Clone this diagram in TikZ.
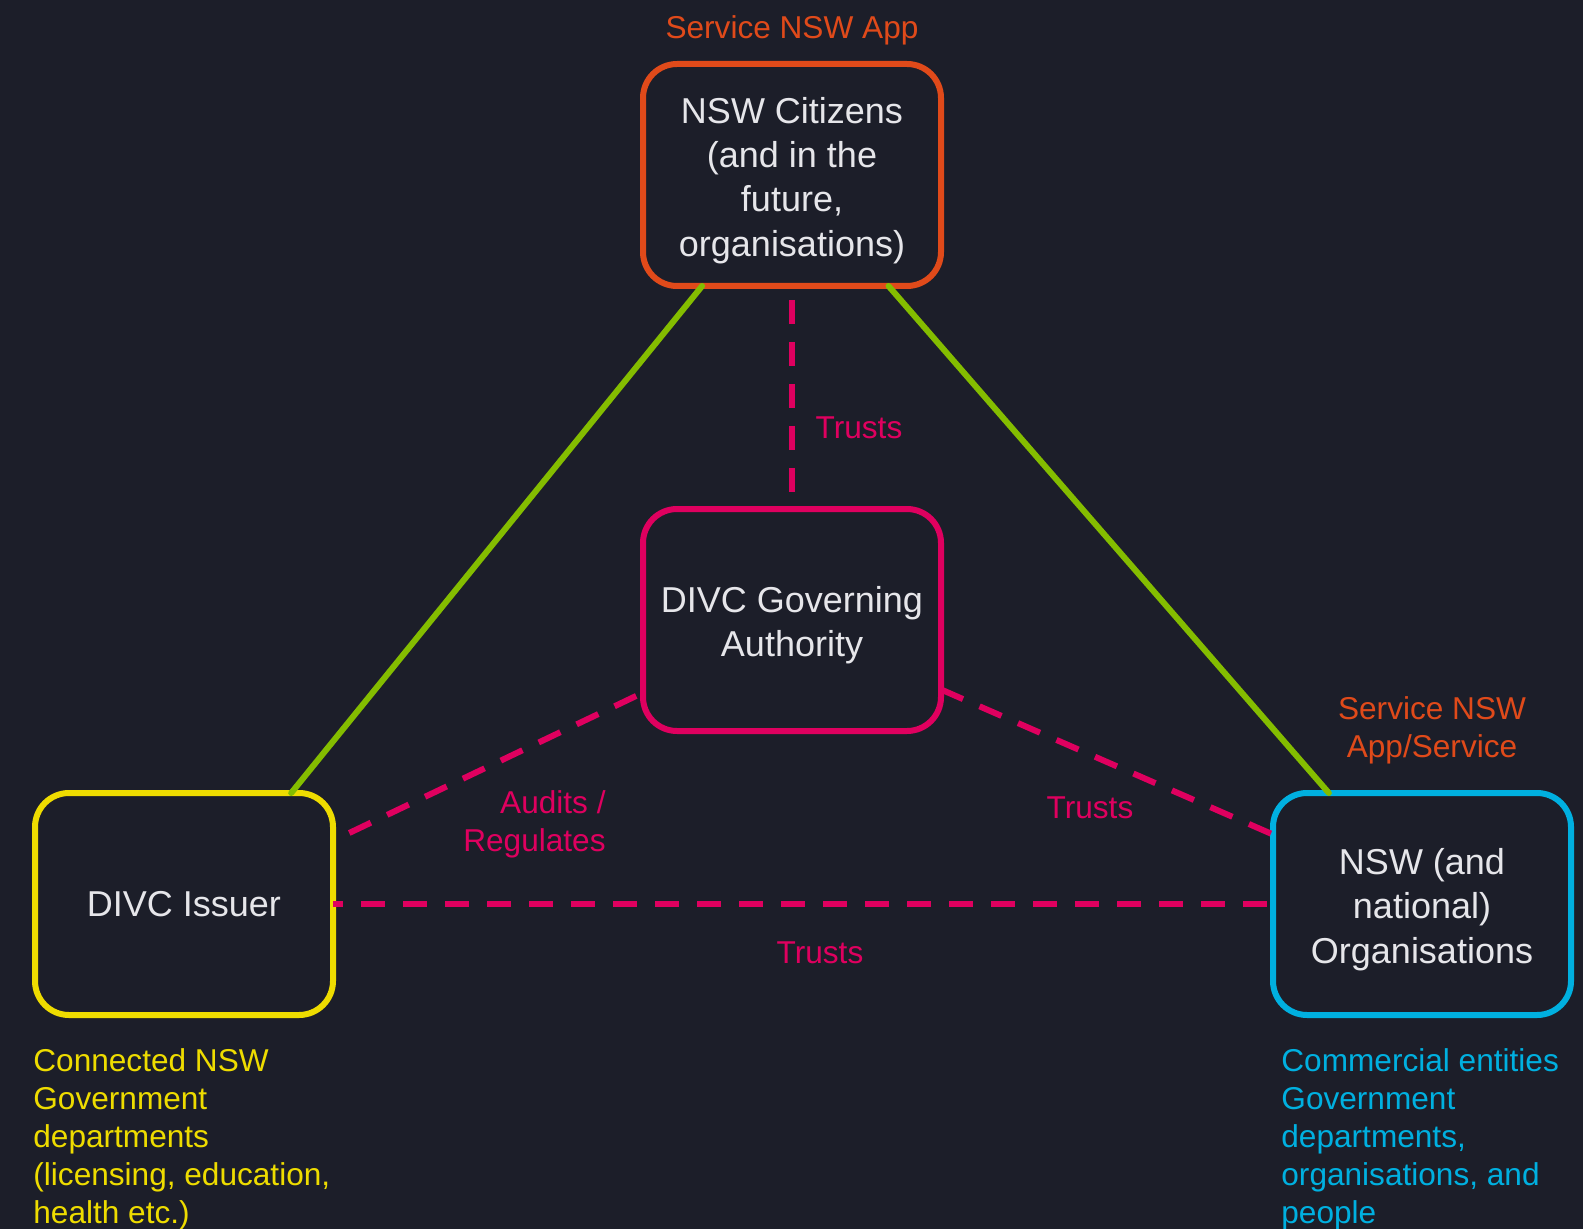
\documentclass[tikz,border=0pt]{standalone}
\usepackage{fontspec}
\setmainfont{Liberation Sans}
\usepackage{tikz}
\definecolor{BgDark}{HTML}{1C1E29}
\definecolor{NswOrange}{HTML}{E04A1A}
\definecolor{NswPink}{HTML}{DF005F}
\definecolor{NswYellow}{HTML}{EEDC00}
\definecolor{NswBlue}{HTML}{00B0E0}
\definecolor{NswGreen}{HTML}{84BD00}
\definecolor{BoxText}{HTML}{E6E6EA}
\newcommand{\MainColor}{BoxText}
\newcommand{\TopPad}{\rule{0pt}{18.5pt}}

\begin{document}
\begin{tikzpicture}[line cap=round,line join=round,x=0.5pt,y=-0.5pt,
  party/.style={draw,line width=3pt,rounded corners=17pt,fill=BgDark,
    minimum width=149pt,minimum height=111pt,inner sep=0pt,outer sep=0pt,
    align=center,text=\MainColor,font=\fontsize{18}{22.2}\selectfont},
  link/.style={draw=NswGreen,line width=3pt},
  trust/.style={draw=NswPink,line width=3pt,line cap=butt,dash pattern=on 12pt off 9pt},
  note/.style={inner sep=0pt,font=\fontsize{15.8}{19}\selectfont}]
  \fill [color=BgDark] (0,0) rectangle (1583,1229);
  \useasboundingbox (0,0) rectangle (1583,1229);
  \node[party,draw=NswOrange] (citizens) at (792,175) {\TopPad NSW Citizens\\(and in the\\future,\\organisations)};
  \node[party,draw=NswPink] (authority) at (792,620) {\TopPad DIVC Governing\\Authority};
  \node[party,draw=NswYellow] (issuer) at (184,904) {DIVC Issuer};
  \node[party,draw=NswBlue] (orgs) at (1422,904) {\TopPad NSW (and\\national)\\Organisations};
  \draw [link] (citizens.231) -- (issuer.46);
  \draw [link] (citizens.311) -- (orgs.130);
  \draw [trust,dash phase=14pt] (citizens.south) -- (authority.north);
  \draw [trust,dash phase=12pt] (issuer.23) -- (authority.206);
  \draw [trust] (authority.335) -- (orgs.155);
  \draw [trust,dash phase=7pt] (issuer.east) -- (orgs.west);
  \node[note,text=NswOrange] (appLabel) at (792,30) {Service NSW App};
  \node[note,text=NswOrange,align=center] (serviceLabel) at (1432,730) {Service NSW\\App/Service};
  \node[note,text=NswPink] (trustTop) at (859,428) {Trusts};
  \node[note,text=NswPink,align=right,anchor=east] (auditLabel) at (606,824) {Audits /\\Regulates};
  \node[note,text=NswPink] (trustRight) at (1090,808) {Trusts};
  \node[note,text=NswPink] (trustBottom) at (820,953) {Trusts};
  \node[note,text=NswYellow,align=left,anchor=north west] (issuerNote) at (33,1048)
    {Connected NSW\\Government\\departments\\(licensing, education,\\health etc.)};
  \node[note,text=NswBlue,align=left,anchor=north west] (orgsNote) at (1281,1048)
    {Commercial entities\\Government\\departments,\\organisations, and\\people};
\end{tikzpicture}
\end{document}
